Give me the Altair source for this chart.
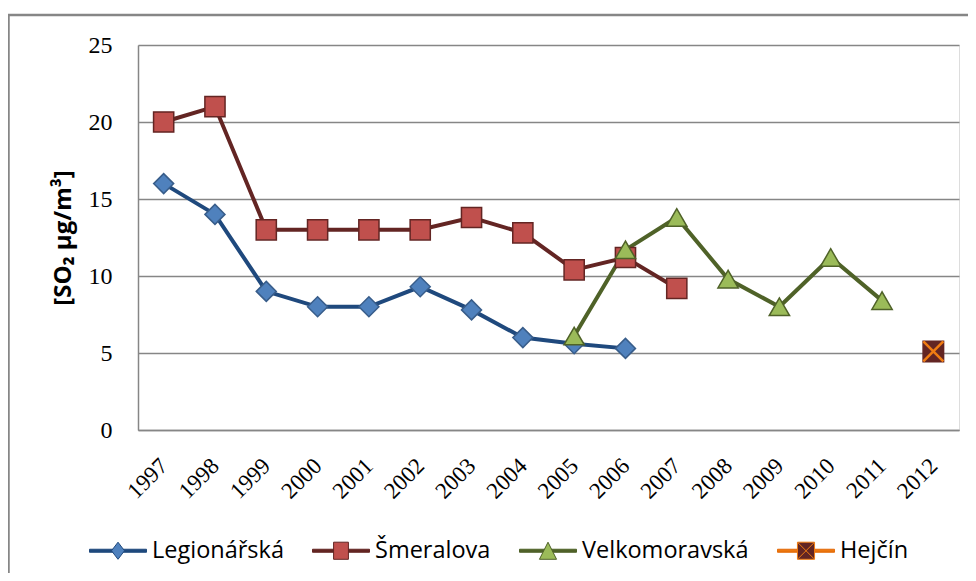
import altair as alt
import pandas as pd

years = [str(y) for y in range(1997, 2013)]
stations = ["Legionářská", "Šmeralova", "Velkomoravská", "Hejčín"]

legionarska = [16.0, 14.0, 9.0, 8.0, 8.0, 9.3, 7.8, 6.0, 5.6, 5.3, None, None, None, None, None, None]
smeralova = [20.0, 21.0, 13.0, 13.0, 13.0, 13.0, 13.8, 12.8, 10.4, 11.2, 9.2, None, None, None, None, None]
velkomoravska = [None, None, None, None, None, None, None, None, 6.1, 11.7, 13.8, 9.8, 8.0, 11.2, 8.4, None]
hejcin = [None, None, None, None, None, None, None, None, None, None, None, None, None, None, None, 5.1]

y_ticks = [0, 5, 10, 15, 20, 25]

line_colors = ["#1F497D", "#632523", "#4F6228", "#E46C0A"]
marker_fills = ["#4F81BD", "#C0504D", "#9BBB59", "#632523"]
marker_strokes = ["#385D8A", "#632523", "#4F6228", "#632523"]
marker_shapes = ["diamond", "square", "triangle-up", "square"]
marker_sizes = [400, 420, 500, 540]
cross_path = "M-1,-1L1,1M1,-1L-1,1"

# legend glyphs (unit box scaled by sqrt(symbolSize)/2)
legend_line = "M-1,-0.053H1V0.053H-1Z"
legend_shapes = [
    "M-1,0H-0.228M0.228,0H1M0,-0.3L0.228,0L0,0.3L-0.228,0Z",
    "M-1,0H-0.26M0.26,0H1M-0.26,-0.3H0.26V0.3H-0.26Z",
    "M-1,0H-0.3M0.3,0H1M0,-0.3L0.3,0.3H-0.3Z",
    "M-1,0H-0.3M0.3,0H1M-0.3,-0.3H0.3V0.3H-0.3ZM-0.28,-0.28L0.28,0.28M0.28,-0.28L-0.28,0.28",
]
legend_strokes = ["#1F497D", "#632523", "#4F6228", "#F07C12"]

rows = []
for name, vals in zip(stations, [legionarska, smeralova, velkomoravska, hejcin]):
    for yr, v in zip(years, vals):
        if v is not None:
            rows.append({"station": name, "year": yr, "value": v, "order": stations.index(name)})
df = pd.DataFrame(rows)

W, H = 821, 385
LX, LY = -49, 476.5
SYM = 3249

x_enc = alt.X("year:O", scale=alt.Scale(domain=years), axis=alt.Axis(
    title=None, labelAngle=-45, labelAlign="right", labelBaseline="middle",
    labelPadding=32, labelFont="Liberation Serif", labelFontSize=23, labelColor="black",
    ticks=False, domainColor="#868686", domainWidth=1.5, grid=False, labelOverlap=False))
y_enc = alt.Y("value:Q", scale=alt.Scale(domain=[0, 25], nice=False), axis=alt.Axis(
    title="[SO₂ µg/m³]", values=y_ticks, grid=True, gridColor="#868686", gridWidth=1.5,
    ticks=False, labelPadding=26, labelFont="Liberation Serif", labelFontSize=24, labelColor="black",
    domainColor="#868686", domainWidth=1.5,
    titleFont="Open Sans", titleFontWeight="bold", titleFontSize=24, titleColor="black",
    titleX=-75, titleY=H / 2, titleAngle=270, titleAlign="center", titleBaseline="middle"))

common_legend = dict(title=None, orient="none", legendX=LX, legendY=LY, direction="horizontal",
                     labelFont="Open Sans", labelFontSize=23.5, labelColor="black", labelLimit=400,
                     labelOffset=5, columnPadding=26, padding=0, symbolOpacity=1,
                     symbolSize=SYM, symbolStrokeWidth=1)

lines = alt.Chart(df).mark_line(strokeWidth=4).encode(
    x=x_enc, y=y_enc,
    stroke=alt.Stroke("station:N", scale=alt.Scale(domain=stations, range=line_colors), legend=None),
)

markers = alt.Chart(df).mark_point(filled=True, opacity=1, strokeWidth=1.5).encode(
    x=x_enc, y=y_enc,
    shape=alt.Shape("station:N", scale=alt.Scale(domain=stations, range=marker_shapes), legend=None),
    fill=alt.Fill("station:N", scale=alt.Scale(domain=stations, range=marker_fills), legend=None),
    stroke=alt.Stroke("station:N", scale=alt.Scale(domain=stations, range=marker_strokes), legend=None),
    size=alt.Size("station:N", scale=alt.Scale(domain=stations, range=marker_sizes), legend=None),
    order=alt.Order("order:Q"),
)

cross = alt.Chart(df).transform_filter(alt.datum.station == "Hejčín").mark_point(
    shape=cross_path, filled=False, stroke="#F07C12", strokeWidth=2.5, size=400, opacity=1
).encode(x=x_enc, y=y_enc)

# legend A: line part with labels
lg_a = dict(common_legend)
legend_lines = alt.Chart(df).transform_filter("false").mark_point(filled=True, opacity=1, strokeWidth=1).encode(
    x=x_enc, y=y_enc,
    shape=alt.Shape("station:N", scale=alt.Scale(domain=stations, range=[legend_line] * 4), legend=alt.Legend(**lg_a)),
    fill=alt.Fill("station:N", scale=alt.Scale(domain=stations, range=line_colors), legend=alt.Legend(**lg_a)),
    stroke=alt.Stroke("station:N", scale=alt.Scale(domain=stations, range=line_colors), legend=alt.Legend(**lg_a)),
)

# legend B: markers drawn over the same layout, labels hidden
lg_b = dict(common_legend, labelOpacity=0)
legend_markers = alt.Chart(df).transform_filter("false").mark_point(filled=True, opacity=1, strokeWidth=1).encode(
    x=x_enc, y=y_enc,
    shape=alt.Shape("station:N", scale=alt.Scale(domain=stations, range=legend_shapes), legend=alt.Legend(**lg_b)),
    fill=alt.Fill("station:N", scale=alt.Scale(domain=stations, range=marker_fills), legend=alt.Legend(**lg_b)),
    stroke=alt.Stroke("station:N", scale=alt.Scale(domain=stations, range=legend_strokes), legend=alt.Legend(**lg_b)),
)

frame = alt.Chart(pd.DataFrame({"a": [0]})).mark_rect(
    fillOpacity=0, stroke="#868686", strokeWidth=2.5
).encode(x=alt.value(-129.5), x2=alt.value(840), y=alt.value(-30), y2=alt.value(600))

chart = alt.layer(frame, lines, markers, cross, legend_lines, legend_markers).resolve_scale(
    stroke="independent", fill="independent", shape="independent", size="independent"
).properties(
    width=W, height=H,
    autosize=alt.AutoSizeParams(type="none"),
    padding={"left": 130, "top": 37, "right": 9, "bottom": 143},
).configure_view(stroke="#4F6228", strokeWidth=1.2).configure(background="white")

chart.save("out.html", embed_options={"renderer": "svg", "actions": False})
